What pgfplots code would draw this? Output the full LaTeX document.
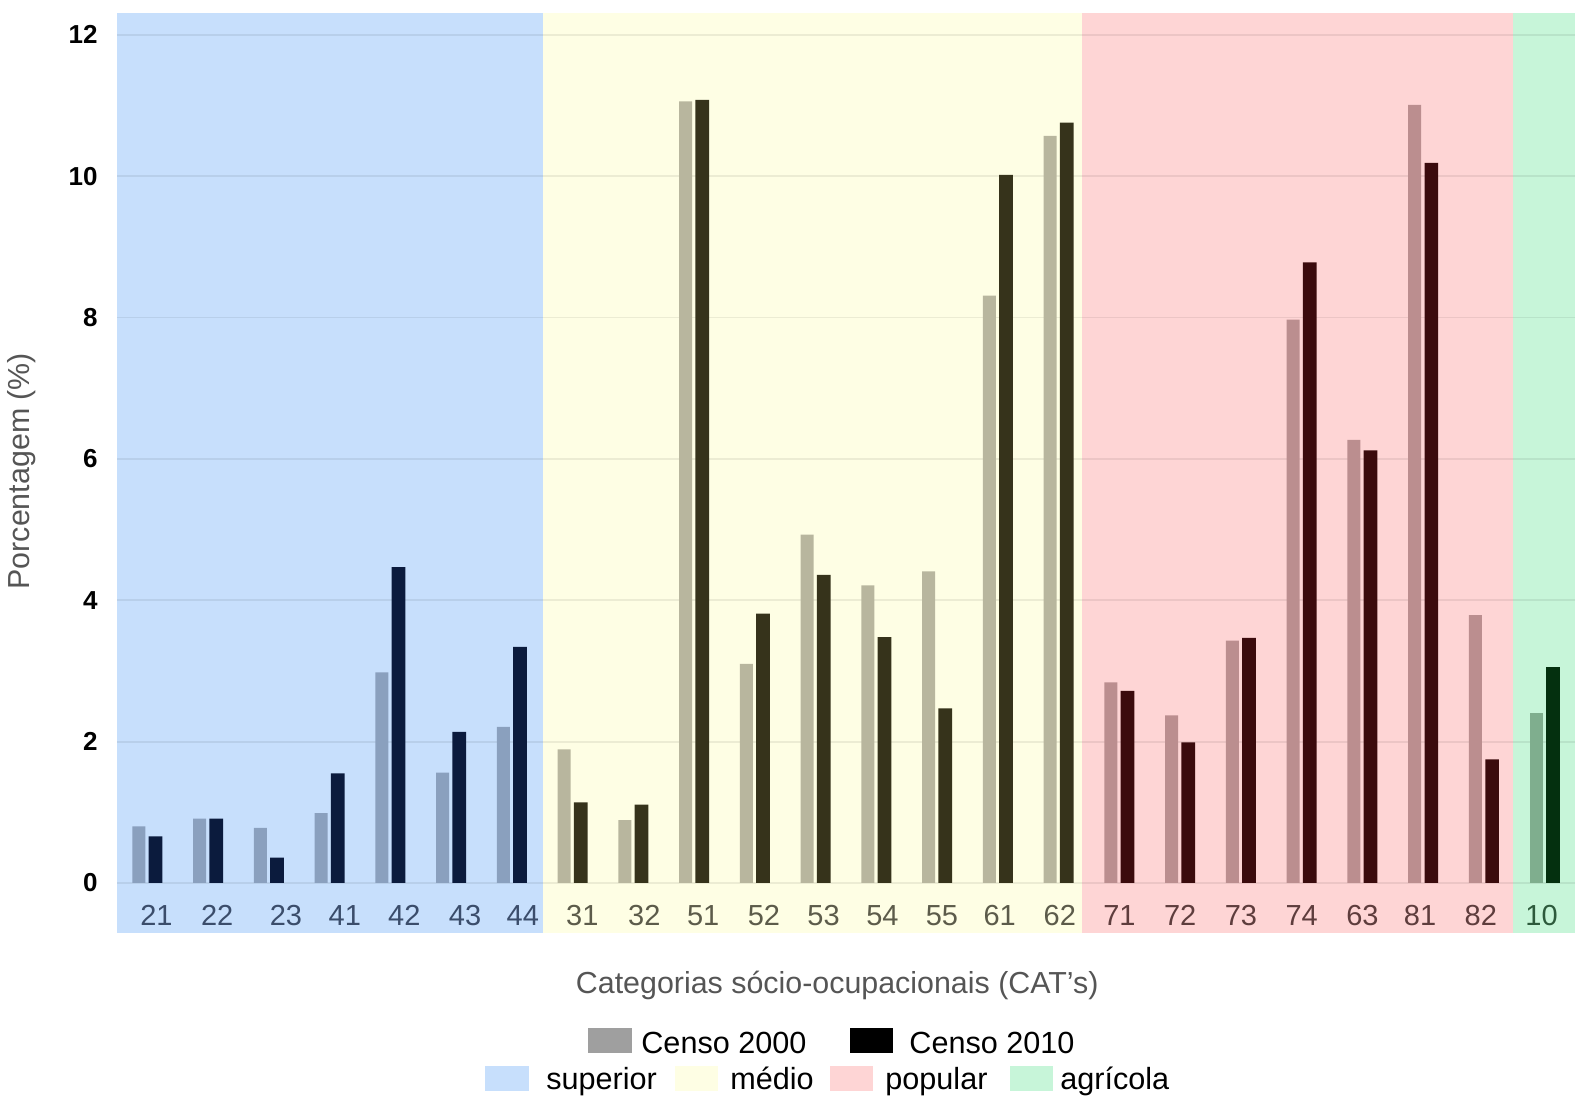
\documentclass[border=0pt]{standalone}
\usepackage{fontspec}
\setmainfont{Liberation Sans}
\usepackage{pgfplots}
\pgfplotsset{compat=1.18}
\definecolor{bgBlue}{HTML}{C7DFFC}
\definecolor{bgYel}{HTML}{FEFEE4}
\definecolor{bgPink}{HTML}{FED5D5}
\definecolor{bgGreen}{HTML}{C7F5D9}
\definecolor{bLight}{HTML}{8AA0BE}
\definecolor{bDark}{HTML}{0B1B3D}
\definecolor{yLight}{HTML}{B8B69E}
\definecolor{yDark}{HTML}{36331B}
\definecolor{pLight}{HTML}{BB8E8F}
\definecolor{pDark}{HTML}{3B0B0D}
\definecolor{gLight}{HTML}{7FAE8E}
\definecolor{gDark}{HTML}{04300F}
\definecolor{tBlue}{HTML}{3B4D6B}
\definecolor{tYel}{HTML}{5C5B4A}
\definecolor{tPink}{HTML}{5E3D3D}
\definecolor{tGreen}{HTML}{2D5A3C}
\definecolor{labgray}{HTML}{555555}
\begin{document}
\begin{tikzpicture}
\begin{axis}[
  set layers,
  at={(0,0)}, anchor=south west,
  scale only axis, width=729pt, height=460pt,
  xmin=-0.5, xmax=23.5, ymin=-0.7075, ymax=12.31,
  axis line style={draw=none},
  major tick length=0pt,
  ytick={0,2,4,6,8,10,12},
  yticklabels={0,2,4,6,8,10,12},
  yticklabel style={font=\fontsize{13}{16}\selectfont\bfseries, text=black, anchor=east, inner sep=0pt, xshift=-9.5pt},
  xtick={0.15,1.15,2.28,3.25,4.23,5.23,6.18,7.16,8.18,9.15,10.15,11.13,12.10,13.08,14.03,15.02,16,17,18,19,20,20.95,21.95,22.95},
  xticklabels={{\textcolor{tBlue}{21}},{\textcolor{tBlue}{22}},{\textcolor{tBlue}{23}},{\textcolor{tBlue}{41}},{\textcolor{tBlue}{42}},{\textcolor{tBlue}{43}},{\textcolor{tBlue}{44}},
    {\textcolor{tYel}{31}},{\textcolor{tYel}{32}},{\textcolor{tYel}{51}},{\textcolor{tYel}{52}},{\textcolor{tYel}{53}},{\textcolor{tYel}{54}},{\textcolor{tYel}{55}},{\textcolor{tYel}{61}},{\textcolor{tYel}{62}},
    {\textcolor{tPink}{71}},{\textcolor{tPink}{72}},{\textcolor{tPink}{73}},{\textcolor{tPink}{74}},{\textcolor{tPink}{63}},{\textcolor{tPink}{81}},{\textcolor{tPink}{82}},
    {\textcolor{tGreen}{10}}},
  xticklabel style={font=\fontsize{14.5}{17}\selectfont, anchor=base, inner sep=0pt, yshift=3.5pt},
  ymajorgrids,
  major grid style={black, opacity=0.07, line width=0.9pt},
  xlabel={Categorias sócio-ocupacionais (CAT’s)},
  xlabel style={at={(axis description cs:0.494,-0.0575)}, anchor=center, font=\fontsize{15.2}{18}\selectfont, text=labgray},
  ylabel={Porcentagem (\%)},
  ylabel style={at={(axis description cs:-0.0652,0.502)}, anchor=center, font=\fontsize{15.2}{18}\selectfont, text=labgray},
]
% background bands
\addplot[draw=none, fill=bgBlue, on layer=axis background, forget plot] coordinates {(-0.5,-0.7075) (6.51,-0.7075) (6.51,12.31) (-0.5,12.31)} -- cycle;
\addplot[draw=none, fill=bgYel, on layer=axis background, forget plot] coordinates {(6.51,-0.7075) (15.38,-0.7075) (15.38,12.31) (6.51,12.31)} -- cycle;
\addplot[draw=none, fill=bgPink, on layer=axis background, forget plot] coordinates {(15.38,-0.7075) (22.48,-0.7075) (22.48,12.31) (15.38,12.31)} -- cycle;
\addplot[draw=none, fill=bgGreen, on layer=axis background, forget plot] coordinates {(22.48,-0.7075) (23.5,-0.7075) (23.5,12.31) (22.48,12.31)} -- cycle;
% superior
\addplot[ybar, bar width=0.215, bar shift=-0.14, fill=bLight, draw=none] coordinates {(0,0.80) (1,0.91) (2,0.78) (3,0.99) (4,2.98) (5,1.56) (6,2.21)};
\addplot[ybar, bar width=0.225, bar shift=0.135, fill=bDark, draw=none] coordinates {(0,0.66) (1,0.91) (2,0.36) (3,1.55) (4,4.47) (5,2.14) (6,3.34)};
% medio
\addplot[ybar, bar width=0.215, bar shift=-0.14, fill=yLight, draw=none] coordinates {(7,1.89) (8,0.89) (9,11.06) (10,3.10) (11,4.93) (12,4.21) (13,4.41) (14,8.31) (15,10.57)};
\addplot[ybar, bar width=0.225, bar shift=0.135, fill=yDark, draw=none] coordinates {(7,1.14) (8,1.11) (9,11.08) (10,3.81) (11,4.36) (12,3.48) (13,2.47) (14,10.02) (15,10.76)};
% popular
\addplot[ybar, bar width=0.215, bar shift=-0.14, fill=pLight, draw=none] coordinates {(16,2.84) (17,2.37) (18,3.43) (19,7.97) (20,6.27) (21,11.01) (22,3.79)};
\addplot[ybar, bar width=0.225, bar shift=0.135, fill=pDark, draw=none] coordinates {(16,2.72) (17,1.99) (18,3.47) (19,8.78) (20,6.12) (21,10.19) (22,1.75)};
% agricola
\addplot[ybar, bar width=0.215, bar shift=-0.14, fill=gLight, draw=none] coordinates {(23,2.41)};
\addplot[ybar, bar width=0.225, bar shift=0.135, fill=gDark, draw=none] coordinates {(23,3.06)};
\end{axis}
% legend
\begin{scope}[every node/.style={font=\fontsize{15.3}{18}\selectfont, inner sep=0pt, text=black}]
\fill[gray!75] (235.5pt,-47.5pt) rectangle (257.5pt,-60pt);
\node[anchor=base west] at (262pt,-60.5pt) {Censo 2000};
\fill[black] (366.5pt,-47.5pt) rectangle (388pt,-60pt);
\node[anchor=base west] at (396pt,-60.5pt) {Censo 2010};
\fill[bgBlue] (183.75pt,-66.5pt) rectangle (206pt,-79pt);
\node[anchor=base west] at (214.5pt,-78.5pt) {superior};
\fill[bgYel] (279pt,-66.5pt) rectangle (300.5pt,-79pt);
\node[anchor=base west] at (306.5pt,-78.5pt) {médio};
\fill[bgPink] (356.5pt,-66.5pt) rectangle (378pt,-79pt);
\node[anchor=base west] at (384pt,-78.5pt) {popular};
\fill[bgGreen] (446.5pt,-66.5pt) rectangle (468pt,-79pt);
\node[anchor=base west] at (471.5pt,-78.5pt) {agrícola};
\end{scope}
\pgfresetboundingbox
\useasboundingbox (-58.5pt,-85pt) rectangle (729pt,466.5pt);
\end{tikzpicture}
\end{document}
